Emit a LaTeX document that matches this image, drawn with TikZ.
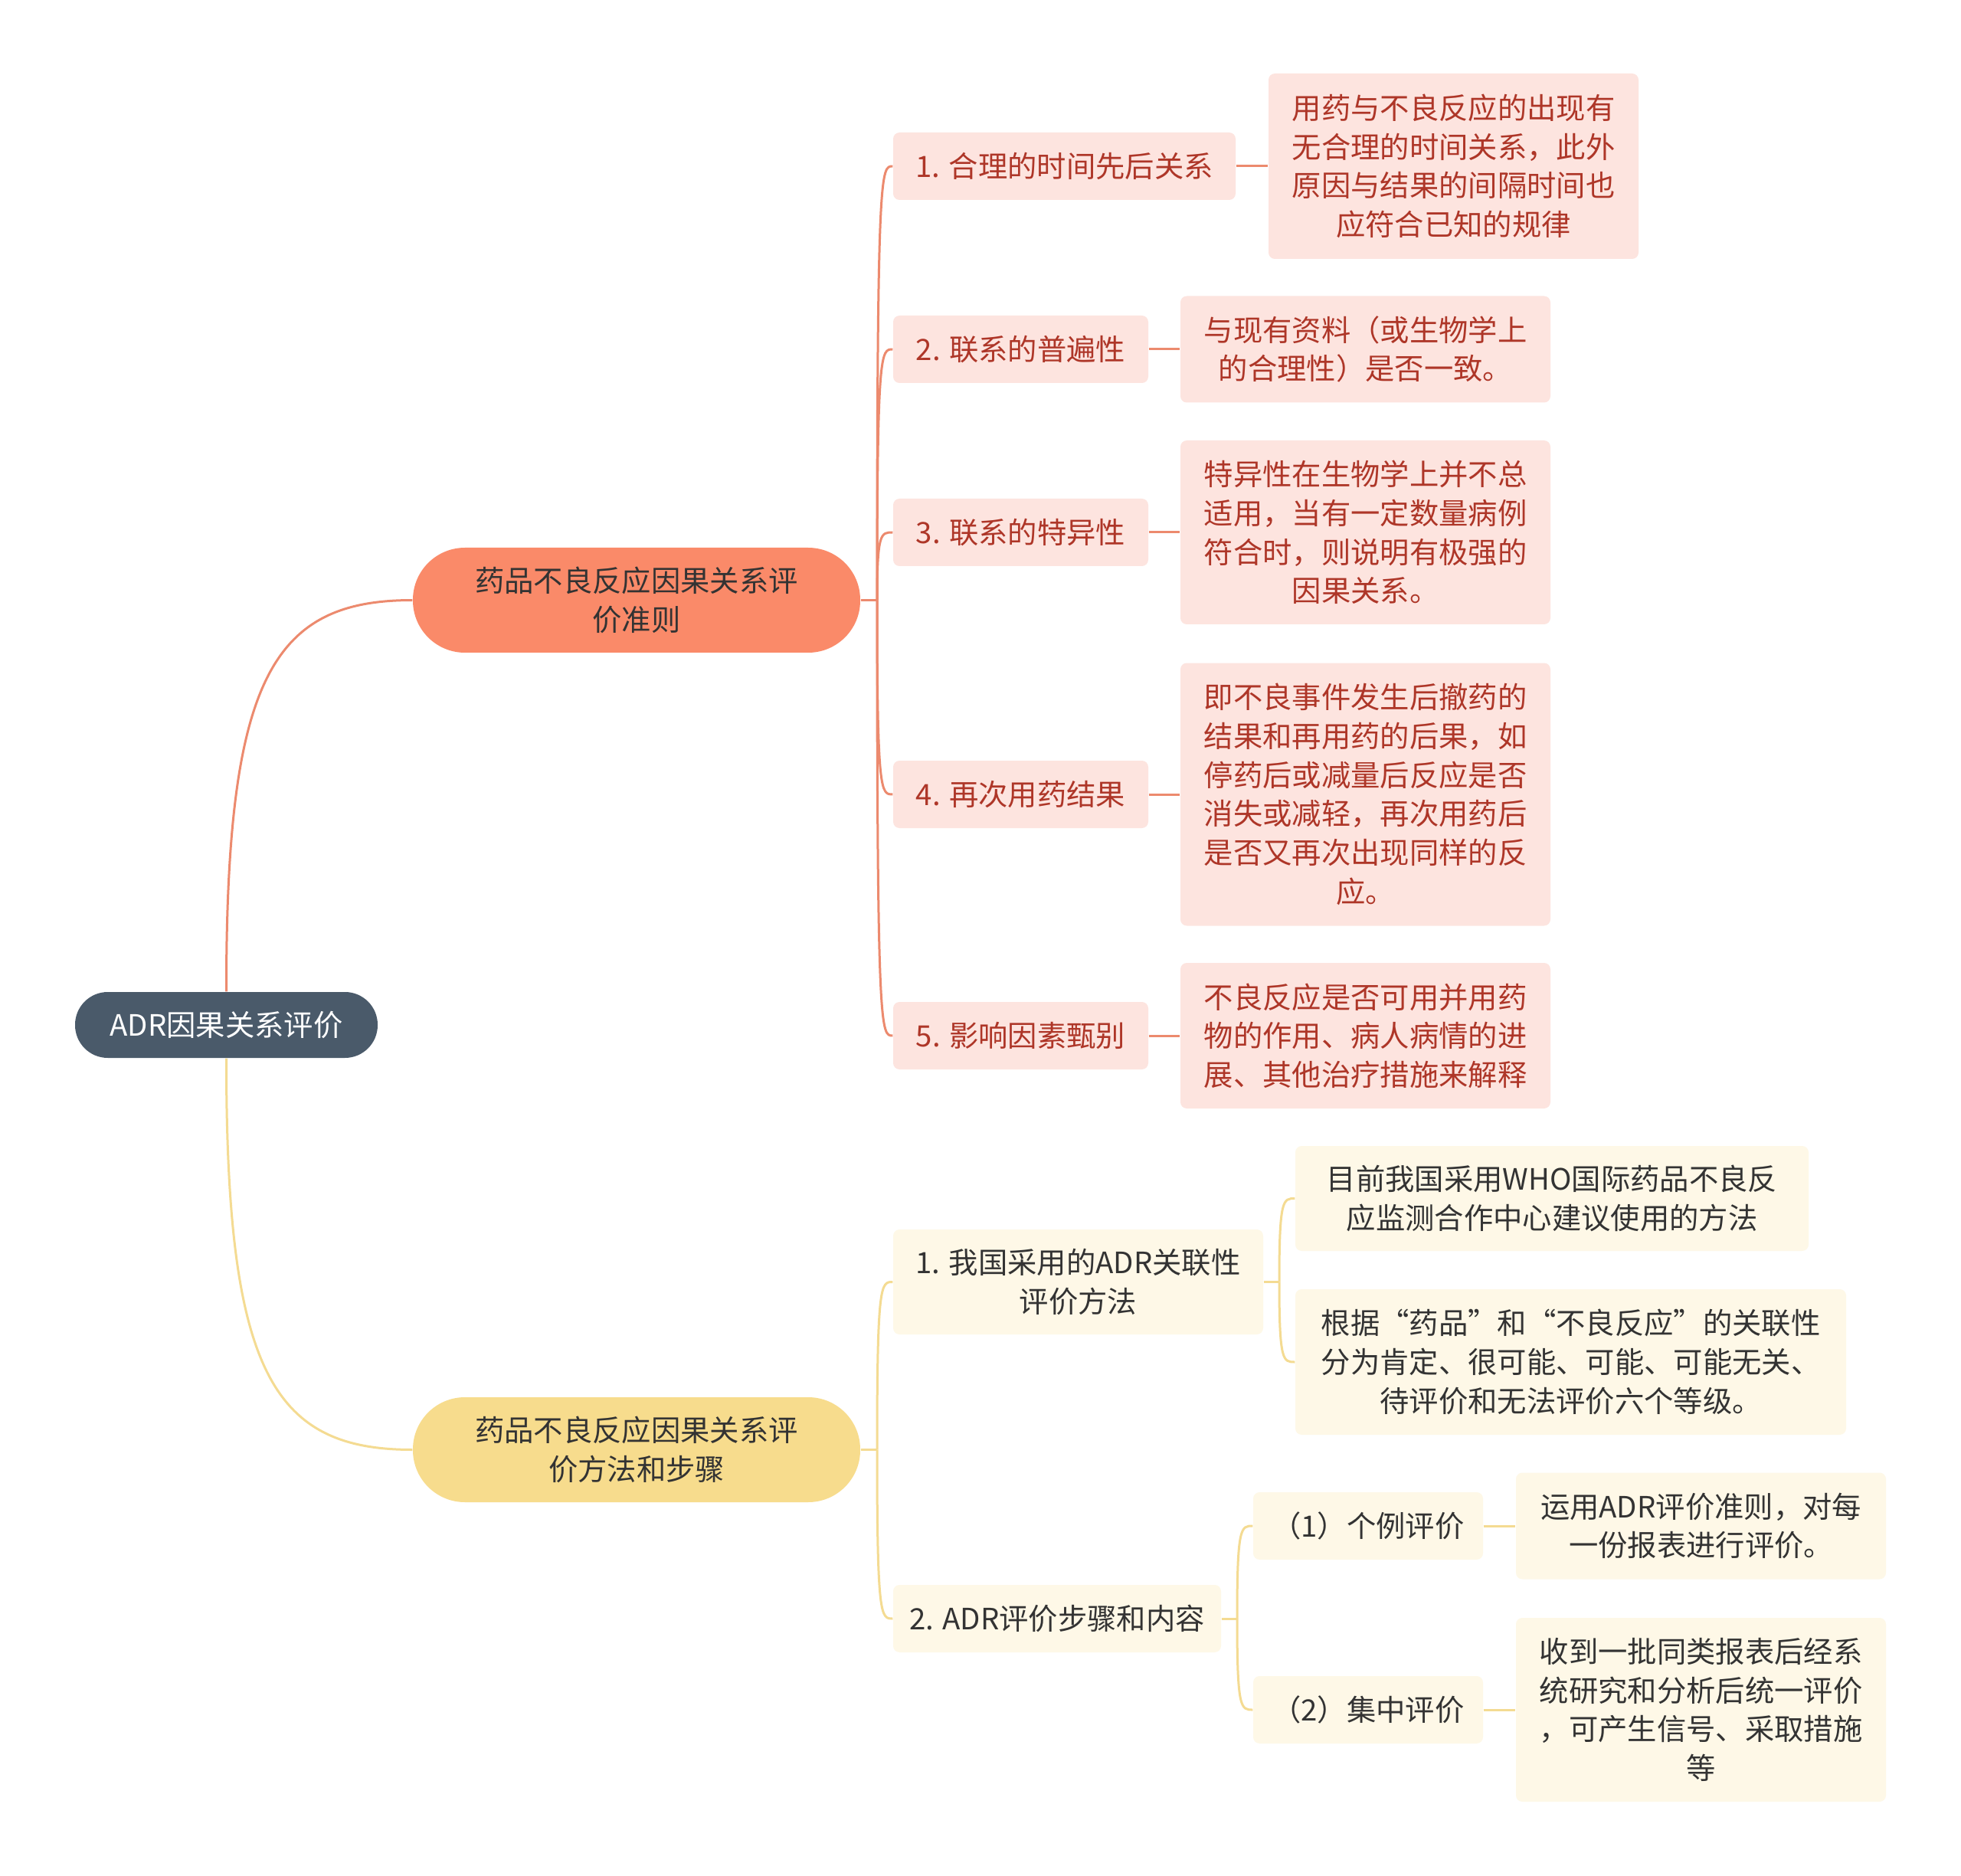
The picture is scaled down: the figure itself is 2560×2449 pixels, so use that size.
\documentclass[tikz,border=0pt]{standalone}
\usepackage{fontspec}
\setmainfont{Noto Sans CJK SC}
\definecolor{rootc}{HTML}{4A5A6A}
\definecolor{mainAc}{HTML}{FA8A69}
\definecolor{mainBc}{HTML}{F7DC8D}
\definecolor{lineA}{HTML}{EC8A6E}
\definecolor{lineB}{HTML}{F4DB92}
\definecolor{pinkc}{HTML}{FDE4DF}
\definecolor{creamc}{HTML}{FEF8E7}
\definecolor{redtext}{HTML}{AE3628}
\definecolor{darktext}{HTML}{333333}
\begin{document}
\begin{tikzpicture}[x=0.3pt,y=-0.3pt,
  every node/.style={font=\fontsize{11.5pt}{15.2pt}\selectfont, align=center, inner sep=0pt},
  rootbox/.style={fill=rootc, text=white, rounded corners=12.8pt, minimum width=118.5pt, minimum height=25.8pt},
  mainbox/.style={rounded corners=20.4pt, minimum width=175.2pt, minimum height=41.1pt, text=darktext},
  pinkbox/.style={fill=pinkc, text=redtext, rounded corners=2.5pt},
  creambox/.style={fill=creamc, text=darktext, rounded corners=2.5pt},
  linkA/.style={draw=lineA, line width=0.9pt},
  linkB/.style={draw=lineB, line width=0.9pt}
]
\useasboundingbox (0,0) rectangle (2560,2449);
\fill[white] (0,0) rectangle (2560,2449);

% root and main branches
\node[rootbox] (root) at (295.5,1338) {ADR因果关系评价};
\node[mainbox, fill=mainAc] (m1) at (831,783.5) {药品不良反应因果关系评\\价准则};
\node[mainbox, fill=mainBc] (m2) at (831,1892.5) {药品不良反应因果关系评\\价方法和步骤};

% top level 2
\node[pinkbox, minimum width=134.1pt, minimum height=26.4pt] (n1) at (1389.5,217) {1. 合理的时间先后关系};
\node[pinkbox, minimum width=99.9pt, minimum height=26.4pt] (n2) at (1332.5,456) {2. 联系的普遍性};
\node[pinkbox, minimum width=99.9pt, minimum height=26.4pt] (n3) at (1332.5,695) {3. 联系的特异性};
\node[pinkbox, minimum width=99.9pt, minimum height=26.4pt] (n4) at (1332.5,1037) {4. 再次用药结果};
\node[pinkbox, minimum width=99.9pt, minimum height=26.4pt] (n5) at (1332.5,1352) {5. 影响因素甄别};

% top level 3
\node[pinkbox, minimum width=144.9pt, minimum height=72.6pt] (a1) at (1897.5,217) {用药与不良反应的出现有\\无合理的时间关系，此外\\原因与结果的间隔时间也\\应符合已知的规律};
\node[pinkbox, minimum width=144.9pt, minimum height=41.7pt] (a2) at (1782.5,456) {与现有资料（或生物学上\\的合理性）是否一致。};
\node[pinkbox, minimum width=144.9pt, minimum height=72pt] (a3) at (1782.5,695) {特异性在生物学上并不总\\适用，当有一定数量病例\\符合时，则说明有极强的\\因果关系。};
\node[pinkbox, minimum width=144.9pt, minimum height=102.9pt] (a4) at (1782.5,1037) {即不良事件发生后撤药的\\结果和再用药的后果，如\\停药后或减量后反应是否\\消失或减轻，再次用药后\\是否又再次出现同样的反\\应。};
\node[pinkbox, minimum width=144.9pt, minimum height=57pt] (a5) at (1782.5,1352) {不良反应是否可用并用药\\物的作用、病人病情的进\\展、其他治疗措施来解释};

% bottom level 2
\node[creambox, minimum width=144.9pt, minimum height=41.1pt] (b1) at (1407.5,1673.5) {1. 我国采用的ADR关联性\\评价方法};
\node[creambox, minimum width=128.4pt, minimum height=26.4pt] (b2) at (1380,2113) {2. ADR评价步骤和内容};

% bottom level 3
\node[creambox, minimum width=201pt, minimum height=41.1pt] (c1) at (2026,1564.5) {目前我国采用WHO国际药品不良反\\应监测合作中心建议使用的方法};
\node[creambox, minimum width=215.7pt, minimum height=57pt] (c2) at (2050.5,1778) {根据“药品”和“不良反应”的关联性\\分为肯定、很可能、可能、可能无关、\\待评价和无法评价六个等级。};
\node[creambox, minimum width=90pt, minimum height=26.4pt] (d1) at (1786,1992) {（1）个例评价};
\node[creambox, minimum width=90pt, minimum height=26.4pt] (d2) at (1786,2232) {（2）集中评价};
\node[creambox, minimum width=144.9pt, minimum height=41.7pt] (e1) at (2220.5,1992) {运用ADR评价准则，对每\\一份报表进行评价。};
\node[creambox, minimum width=144.9pt, minimum height=72pt] (e2) at (2220.5,2232) {收到一批同类报表后经系\\统研究和分析后统一评价\\，可产生信号、采取措施\\等};

% hubs
\coordinate (h1) at (1145,783.5);
\coordinate (h2) at (1145,1892.5);
\coordinate (h3) at (1670,1673.5);
\coordinate (h4) at (1615,2113);

% root connectors
\draw[linkA] (root.north) .. controls (295,885) and (356,783.5) .. (m1.west);
\draw[linkB] (root.south) .. controls (295,1791) and (356,1892.5) .. (m2.west);

% top connectors
\draw[linkA] (m1.east) -- (h1);
\foreach \n/\y in {n1/217,n2/456,n3/695,n4/1037,n5/1352}
  \draw[linkA] (h1) .. controls (1145,\y) and (1150,\y) .. (\n.west);
\draw[linkA] (n1.east) -- (a1.west);
\draw[linkA] (n2.east) -- (a2.west);
\draw[linkA] (n3.east) -- (a3.west);
\draw[linkA] (n4.east) -- (a4.west);
\draw[linkA] (n5.east) -- (a5.west);

% bottom connectors
\draw[linkB] (m2.east) -- (h2);
\draw[linkB] (h2) .. controls (1145,1673.5) and (1150,1673.5) .. (b1.west);
\draw[linkB] (h2) .. controls (1145,2113) and (1150,2113) .. (b2.west);
\draw[linkB] (b1.east) -- (h3);
\draw[linkB] (h3) .. controls (1670,1564.5) and (1675,1564.5) .. (c1.west);
\draw[linkB] (h3) .. controls (1670,1778) and (1675,1778) .. (c2.west);
\draw[linkB] (b2.east) -- (h4);
\draw[linkB] (h4) .. controls (1615,1992) and (1620,1992) .. (d1.west);
\draw[linkB] (h4) .. controls (1615,2232) and (1620,2232) .. (d2.west);
\draw[linkB] (d1.east) -- (e1.west);
\draw[linkB] (d2.east) -- (e2.west);
\end{tikzpicture}
\end{document}
